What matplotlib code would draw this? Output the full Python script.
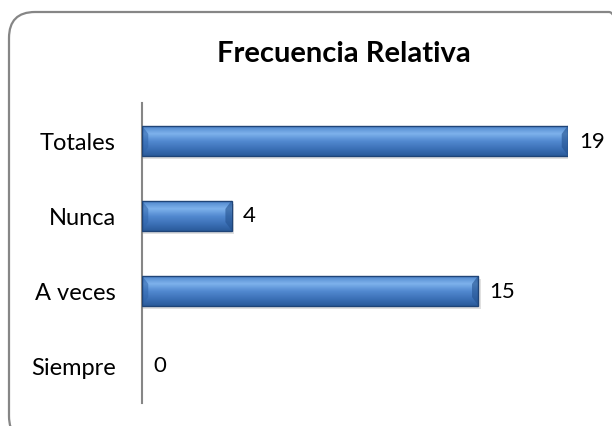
import numpy as np
import matplotlib.pyplot as plt
from matplotlib.patches import FancyBboxPatch, Polygon, Rectangle
from matplotlib.colors import LinearSegmentedColormap

# data (bottom to top)
categories = ['Siempre', 'A veces', 'Nunca', 'Totales']
values = [0, 15, 4, 19]
title = 'Frecuencia Relativa'

plt.rcParams['font.family'] = ['Lato', 'DejaVu Sans']

W, H = 612, 427
fig = plt.figure(figsize=(W / 100, H / 100), dpi=100)

# rounded chart frame, in pixels (runs off the right/bottom edge like the original)
frame = FancyBboxPatch((9, H - 13 - 430), 626, 430,
                       boxstyle='round,pad=0,rounding_size=26',
                       transform=None, fill=False, edgecolor='#868686', linewidth=1.6)
fig.patches.append(frame)

ax = fig.add_axes([142 / W, (H - 404) / H, 426 / W, 300 / H])
ax.set_xlim(0, 19)
ax.set_ylim(-0.5, 3.5)

bh = 0.4
cmap = LinearSegmentedColormap.from_list('bev', ['#2a5a9a', '#3d72b8', '#5289d0', '#7eb2ec', '#4f86cc'])
grad = np.linspace(0, 1, 64).reshape(-1, 1)

for i, v in enumerate(values):
    if v > 0:
        y0, y1 = i - bh / 2, i + bh / 2
        # soft shadow
        ax.add_patch(Rectangle((0, y0 - 0.05), v + 0.1, bh, facecolor='#000000',
                               alpha=0.12, edgecolor='none', zorder=1))
        ax.imshow(grad, cmap=cmap, aspect='auto', extent=(0, v, y0, y1),
                  origin='lower', zorder=2, interpolation='bilinear')
        # bevel end caps
        dx = 0.28 if v > 2 else 0.2
        ax.add_patch(Polygon([(0, y1), (dx, y1 - bh * 0.28), (dx, y0 + bh * 0.28), (0, y0)],
                             facecolor='#2f64aa', alpha=0.55, edgecolor='none', zorder=3))
        ax.add_patch(Polygon([(v, y1), (v - dx, y1 - bh * 0.28), (v - dx, y0 + bh * 0.28), (v, y0)],
                             facecolor='#24528f', alpha=0.6, edgecolor='none', zorder=3))
        ax.add_patch(Rectangle((0, y0), v, bh, facecolor='none',
                               edgecolor='#1f4477', linewidth=1.0, zorder=4))
    ax.text(v + 0.5, i, str(v), va='center', ha='left', fontsize=16, clip_on=False)

ax.set_yticks(range(len(categories)))
ax.set_yticklabels(categories, fontsize=17)
ax.tick_params(axis='y', length=0, pad=19)
ax.set_xticks([])
for s in ['top', 'right', 'bottom']:
    ax.spines[s].set_visible(False)
ax.spines['left'].set_color('#868686')
ax.spines['left'].set_linewidth(1.5)

fig.text(344 / W, 1 - 54 / H, title, ha='center', va='center',
         fontsize=21, fontweight='bold')

fig.savefig('out.png', dpi=100)
